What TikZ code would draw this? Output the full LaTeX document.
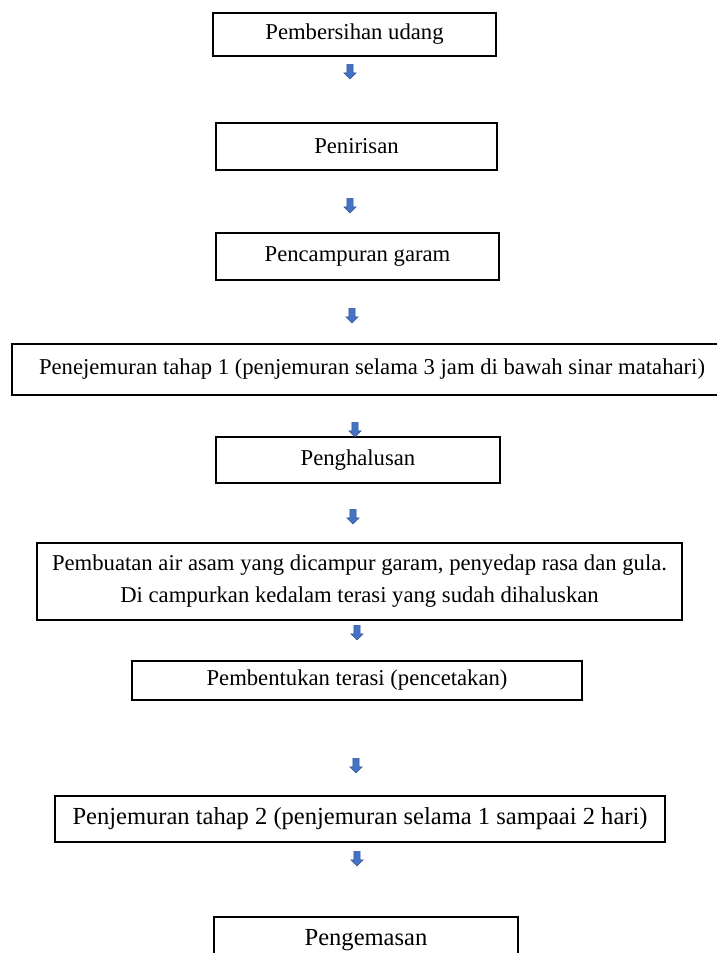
\documentclass[tikz,border=0pt]{standalone}
\usepackage{fontspec}
\setmainfont{Liberation Serif}
\usetikzlibrary{shapes.arrows}
\definecolor{arrowblue}{HTML}{4472C4}
\definecolor{arrowedge}{HTML}{2F528F}
\begin{document}
\begin{tikzpicture}[x=0.75pt, y=-0.75pt,
    stepbox/.style={draw=black, line width=1.3pt, inner sep=0pt, align=center,
        font=\fontsize{17}{24}\selectfont},
    bigbox/.style={stepbox, font=\fontsize{18.4}{24}\selectfont},
    downarrow/.style={single arrow, draw=arrowedge, fill=arrowblue, line width=0.4pt,
        inner sep=2.2pt, minimum height=11pt, minimum width=9pt,
        single arrow head extend=2.2pt, single arrow head indent=0pt, rotate=-90}]
    \useasboundingbox (0, 0) rectangle (717, 953);

    \node[stepbox, minimum width=212pt, minimum height=32pt] (bersih) at (354.5, 34.5) {Pembersihan udang};
    \node[stepbox, minimum width=211pt, minimum height=35pt] (tiris) at (356.5, 146.5) {Penirisan};
    \node[stepbox, minimum width=212pt, minimum height=35pt] (garam) at (357.5, 256.5) {Pencampuran garam};
    \node[stepbox, minimum width=540pt, minimum height=38pt] (jemur1) at (372, 369.5)
        {Penejemuran tahap 1 (penjemuran selama 3 jam di bawah sinar matahari)};
    \node[stepbox, minimum width=213pt, minimum height=35pt] (halus) at (358, 460) {Penghalusan};
    \node[stepbox, minimum width=484pt, minimum height=58pt] (asam) at (359.5, 581.5)
        {Pembuatan air asam yang dicampur garam, penyedap rasa dan gula.\\
         Di campurkan kedalam terasi yang sudah dihaluskan};
    \node[stepbox, minimum width=337pt, minimum height=29pt] (cetak) at (357, 680.5) {Pembentukan terasi (pencetakan)};
    \node[bigbox, minimum width=457pt, minimum height=35pt] (jemur2) at (360, 819)
        {Penjemuran tahap 2 (penjemuran selama 1 sampaai 2 hari)};
    \node[bigbox, minimum width=228pt, minimum height=35pt] (kemas) at (366, 940) {Pengemasan};

    % panah biru di antara kotak
    \node[downarrow] (p1) at (350, 70) {};
    \node[downarrow] (p2) at (350, 204) {};
    \node[downarrow] (p3) at (352, 314) {};
    \node[downarrow] (p4) at (355, 428) {};
    \node[downarrow] (p5) at (353, 515) {};
    \node[downarrow] (p6) at (357, 631) {};
    \node[downarrow] (p7) at (356, 764) {};
    \node[downarrow] (p8) at (357, 857) {};

\end{tikzpicture}
\end{document}
